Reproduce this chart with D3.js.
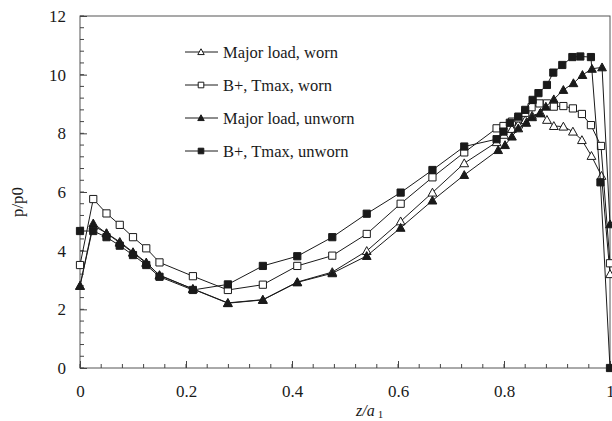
<!DOCTYPE html>
<html>
<head>
<meta charset="utf-8">
<script src="https://cdn.jsdelivr.net/npm/d3@7/dist/d3.min.js"></script>
<style>
  html, body { margin: 0; padding: 0; background: #fff; }
  svg { display: block; }
  text { font-family: "Liberation Serif", "DejaVu Serif", serif; fill: #1a1a1a; }
</style>
</head>
<body>
<svg id="chart" width="612" height="421"></svg>
<script>
// Pressure ratio p/p0 along the contact, z/a1
const zCommon = [0, 0.025, 0.05, 0.075, 0.1, 0.125, 0.15, 0.213, 0.279, 0.345, 0.41, 0.476, 0.541, 0.605, 0.665, 0.725];

const zMajorWorn = zCommon.concat([0.786, 0.800, 0.815, 0.827, 0.840, 0.853, 0.869, 0.881, 0.894, 0.912, 0.930, 0.947, 0.965, 0.984, 1.0]);
const pMajorWorn = [2.80, 4.85, 4.60, 4.30, 3.95, 3.60, 3.15, 2.70, 2.22, 2.33, 2.93, 3.27, 3.99, 5.00, 5.98, 6.98,
                    7.70, 7.95, 8.15, 8.30, 8.45, 8.60, 8.70, 8.46, 8.25, 8.23, 8.06, 7.77, 7.23, 6.55, 3.20];

const zBWorn = zCommon.concat([0.786, 0.799, 0.815, 0.827, 0.840, 0.852, 0.867, 0.881, 0.894, 0.912, 0.930, 0.947, 0.964, 0.983, 1.0]);
const pBWorn = [3.51, 5.76, 5.27, 4.88, 4.46, 4.08, 3.60, 3.13, 2.66, 2.84, 3.48, 3.83, 4.57, 5.60, 6.50, 7.35,
                8.17, 8.25, 8.40, 8.51, 8.70, 8.89, 9.02, 9.02, 8.91, 8.93, 8.85, 8.66, 8.28, 7.57, 3.57];

const zMajorUnworn = zCommon.concat([0.789, 0.802, 0.815, 0.827, 0.842, 0.853, 0.868, 0.879, 0.894, 0.912, 0.931, 0.948, 0.966, 0.985, 1.0]);
const pMajorUnworn = [2.80, 4.93, 4.59, 4.27, 3.93, 3.57, 3.17, 2.69, 2.21, 2.32, 2.92, 3.23, 3.82, 4.78, 5.71, 6.58,
                      7.43, 7.60, 7.89, 8.17, 8.36, 8.55, 8.68, 8.91, 9.16, 9.48, 9.71, 9.99, 10.20, 10.25, 4.90];

const zBUnworn = zCommon.concat([0.786, 0.799, 0.811, 0.827, 0.840, 0.854, 0.865, 0.881, 0.893, 0.910, 0.929, 0.944, 0.964, 0.982, 1.0]);
const pBUnworn = [4.67, 4.67, 4.46, 4.17, 3.85, 3.51, 3.11, 2.66, 2.85, 3.48, 3.81, 4.46, 5.26, 5.98, 6.75, 7.55,
                  7.80, 8.06, 8.36, 8.57, 8.80, 9.14, 9.37, 9.65, 10.07, 10.33, 10.60, 10.62, 10.60, 6.33, 0.0];

const seriesNames = ["Major load, worn", "B+, Tmax, worn", "Major load, unworn", "B+, Tmax, unworn"];
const xTickLabels = ["0", "0.2", "0.4", "0.6", "0.8", "1"];
const yTickLabels = ["0", "2", "4", "6", "8", "10", "12"];

const series = [
  { name: seriesNames[0], z: zMajorWorn,   p: pMajorWorn,   shape: "triangle", filled: false },
  { name: seriesNames[1], z: zBWorn,       p: pBWorn,       shape: "square",   filled: false },
  { name: seriesNames[2], z: zMajorUnworn, p: pMajorUnworn, shape: "triangle", filled: true },
  { name: seriesNames[3], z: zBUnworn,     p: pBUnworn,     shape: "square",   filled: true }
];

const svg = d3.select("#chart");
const plotLeft = 80, plotRight = 610, plotTop = 16, plotBottom = 368;
const ink = "#1a1a1a";

const x = d3.scaleLinear().domain([0, 1]).range([plotLeft, plotRight]);
const y = d3.scaleLinear().domain([0, 12]).range([plotBottom, plotTop]);

// frame
svg.append("rect")
  .attr("x", plotLeft).attr("y", plotTop)
  .attr("width", plotRight - plotLeft).attr("height", plotBottom - plotTop)
  .attr("fill", "none").attr("stroke", "#555").attr("stroke-width", 1);

// minor ticks (inside)
const xMinor = d3.range(0, 1.0001, 0.04).map(v => +v.toFixed(2));
svg.append("g").selectAll("line").data(xMinor).join("line")
  .attr("x1", d => x(d)).attr("x2", d => x(d))
  .attr("y1", plotBottom).attr("y2", plotBottom - 4)
  .attr("stroke", "#444").attr("stroke-width", 1);
const yMinor = d3.range(0, 12.001, 0.4).map(v => +v.toFixed(1));
svg.append("g").selectAll("line").data(yMinor).join("line")
  .attr("x1", plotLeft).attr("x2", plotLeft + 4)
  .attr("y1", d => y(d)).attr("y2", d => y(d))
  .attr("stroke", "#444").attr("stroke-width", 1);

// major axes
const xAxis = d3.axisBottom(x)
  .tickValues(xTickLabels.map(Number))
  .tickFormat((d, i) => xTickLabels[i])
  .tickSizeInner(-7).tickSizeOuter(0).tickPadding(17);
const gx = svg.append("g").attr("transform", `translate(0,${plotBottom})`).call(xAxis);
gx.select(".domain").remove();
gx.selectAll(".tick line").attr("stroke", "#444");
gx.selectAll("text").attr("font-size", 17).attr("fill", ink)
  .attr("font-family", "Liberation Serif, serif");

const yAxis = d3.axisLeft(y)
  .tickValues(yTickLabels.map(Number))
  .tickFormat((d, i) => yTickLabels[i])
  .tickSizeInner(-7).tickSizeOuter(0).tickPadding(14);
const gy = svg.append("g").attr("transform", `translate(${plotLeft},0)`).call(yAxis);
gy.select(".domain").remove();
gy.selectAll(".tick line").attr("stroke", "#444");
gy.selectAll("text").attr("font-size", 17).attr("fill", ink)
  .attr("font-family", "Liberation Serif, serif");

// axis titles
svg.append("text")
  .attr("transform", `translate(23,${(plotTop + plotBottom) / 2 + 10}) rotate(-90)`)
  .attr("text-anchor", "middle").attr("font-size", 17).text("p/p0");

const xt = svg.append("text").attr("x", 356).attr("y", 416).attr("font-size", 16);
xt.append("tspan").attr("font-style", "italic").text("z/a");
xt.append("tspan").attr("dx", 3).attr("dy", 2).attr("font-size", 11).text("1");

// marker path generator
function markerPath(shape, s) {
  if (shape === "square") {
    return `M${-s},${-s}H${s}V${s}H${-s}Z`;
  }
  const h = s * 1.15;
  return `M0,${-h}L${h},${h * 0.8}L${-h},${h * 0.8}Z`;
}

const line = d3.line().x(d => x(d[0])).y(d => y(d[1]));

series.forEach(s => {
  const pts = s.z.map((z, i) => [z, s.p[i]]);
  const g = svg.append("g");
  g.append("path").datum(pts)
    .attr("d", line)
    .attr("fill", "none").attr("stroke", ink).attr("stroke-width", 1);
  g.selectAll("path.m").data(pts).join("path")
    .attr("class", "m")
    .attr("transform", d => `translate(${x(d[0])},${y(d[1])})`)
    .attr("d", markerPath(s.shape, s.shape === "square" ? 3.6 : 3.8))
    .attr("fill", s.filled ? ink : "#fff")
    .attr("stroke", ink).attr("stroke-width", 1);
});

// legend
const legend = svg.append("g");
series.forEach((s, i) => {
  const ly = 52 + i * 33;
  legend.append("line")
    .attr("x1", 185).attr("x2", 218).attr("y1", ly).attr("y2", ly)
    .attr("stroke", ink).attr("stroke-width", 1);
  legend.append("path")
    .attr("transform", `translate(201,${ly})`)
    .attr("d", markerPath(s.shape, 2.8))
    .attr("fill", s.filled ? ink : "#fff")
    .attr("stroke", ink).attr("stroke-width", 1);
  legend.append("text")
    .attr("x", 223).attr("y", ly + 5.5)
    .attr("font-size", 16.5).text(s.name);
});
</script>
</body>
</html>
